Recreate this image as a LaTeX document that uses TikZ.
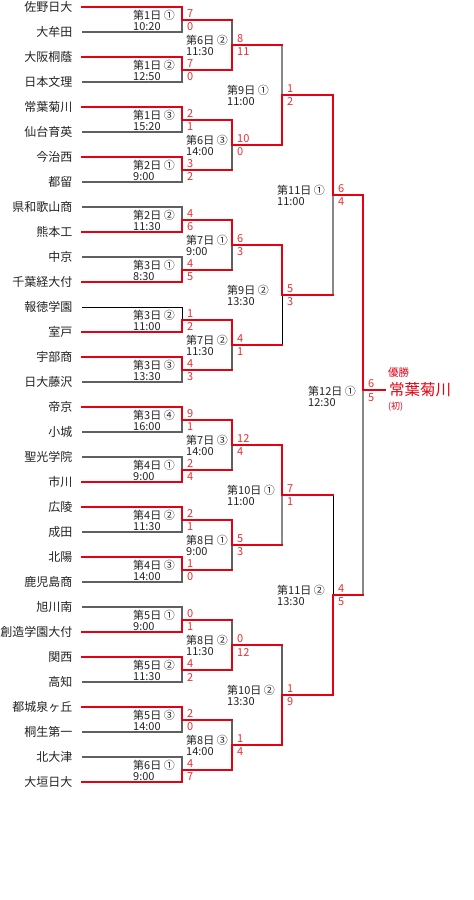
\documentclass[tikz,border=0pt]{standalone}
\usepackage{fontspec}
\setmainfont{Noto Sans CJK JP}
\usetikzlibrary{positioning}

\definecolor{winred}{RGB}{230,0,18}
\definecolor{scorered}{RGB}{232,48,48}
\definecolor{losegray}{RGB}{96,96,96}
\definecolor{paleloss}{RGB}{136,136,136}
\definecolor{inktext}{RGB}{34,34,34}

% one game: [label drop] name, x, y, label x, day, time, upper score, lower score
\newcommand{\game}[9][0.5]{%
  \coordinate (#2) at (#3,#4);
  \node[info] (#2l) at (#5,{#4+#1}) {#6\\#7};
  \node[score] (#2u) at ([xshift=5pt, yshift=6pt]#2) {#8};
  \node[score] (#2d) at ([xshift=5pt, yshift=-7.5pt]#2) {#9};
}

\begin{document}
\begin{tikzpicture}[x=1pt, y=-1pt,
    team/.style={anchor=east, inner xsep=9.5pt, inner ysep=0pt, text=inktext,
                 font=\fontsize{12}{13}\selectfont},
    info/.style={anchor=west, align=left, inner sep=0pt, text=inktext,
                 font=\fontsize{11}{11}\selectfont},
    score/.style={anchor=west, inner sep=0pt, text=scorered,
                  font=\fontsize{11}{12}\selectfont},
    win/.style={draw=winred, line width=2pt, line cap=rect},
    lose/.style={draw=losegray, line width=1.1pt},
    lose2/.style={draw=paleloss, line width=1.6pt},
    losek/.style={draw=black, line width=0.7pt}]
  \useasboundingbox (0,0) rectangle (474,900);

  % teams
  \node[team] (t1) at (82,7) {佐野日大};
  \node[team] (t2) at (82,32) {大牟田};
  \node[team] (t3) at (82,57) {大阪桐蔭};
  \node[team] (t4) at (82,82) {日本文理};
  \node[team] (t5) at (82,107) {常葉菊川};
  \node[team] (t6) at (82,132) {仙台育英};
  \node[team] (t7) at (82,157) {今治西};
  \node[team] (t8) at (82,182) {都留};
  \node[team] (t9) at (82,207) {県和歌山商};
  \node[team] (t10) at (82,232) {熊本工};
  \node[team] (t11) at (82,257) {中京};
  \node[team] (t12) at (82,282) {千葉経大付};
  \node[team] (t13) at (82,307) {報徳学園};
  \node[team] (t14) at (82,332) {室戸};
  \node[team] (t15) at (82,357) {宇部商};
  \node[team] (t16) at (82,382) {日大藤沢};
  \node[team] (t17) at (82,407) {帝京};
  \node[team] (t18) at (82,432) {小城};
  \node[team] (t19) at (82,457) {聖光学院};
  \node[team] (t20) at (82,482) {市川};
  \node[team] (t21) at (82,507) {広陵};
  \node[team] (t22) at (82,532) {成田};
  \node[team] (t23) at (82,557) {北陽};
  \node[team] (t24) at (82,582) {鹿児島商};
  \node[team] (t25) at (82,607) {旭川南};
  \node[team] (t26) at (82,632) {創造学園大付};
  \node[team] (t27) at (82,657) {関西};
  \node[team] (t28) at (82,682) {高知};
  \node[team] (t29) at (82,707) {都城泉ヶ丘};
  \node[team] (t30) at (82,732) {桐生第一};
  \node[team] (t31) at (82,757) {北大津};
  \node[team] (t32) at (82,782) {大垣日大};

  % first round
  \game{g1}{182}{19.5}{133}{第1日 ①}{10:20}{7}{0}
  \game{g2}{182}{69.5}{133}{第1日 ②}{12:50}{7}{0}
  \game{g3}{182}{119.5}{133}{第1日 ③}{15:20}{2}{1}
  \game{g4}{182}{169.5}{133}{第2日 ①}{9:00}{3}{2}
  \game{g5}{182}{219.5}{133}{第2日 ②}{11:30}{4}{6}
  \game{g6}{182}{269.5}{133}{第3日 ①}{8:30}{4}{5}
  \game{g7}{182}{319.5}{133}{第3日 ②}{11:00}{1}{2}
  \game{g8}{182}{369.5}{133}{第3日 ③}{13:30}{4}{3}
  \game{g9}{182}{419.5}{133}{第3日 ④}{16:00}{9}{1}
  \game{g10}{182}{469.5}{133}{第4日 ①}{9:00}{2}{4}
  \game{g11}{182}{519.5}{133}{第4日 ②}{11:30}{2}{1}
  \game{g12}{182}{569.5}{133}{第4日 ③}{14:00}{1}{0}
  \game{g13}{182}{619.5}{133}{第5日 ①}{9:00}{0}{1}
  \game{g14}{182}{669.5}{133}{第5日 ②}{11:30}{4}{2}
  \game{g15}{182}{719.5}{133}{第5日 ③}{14:00}{2}{0}
  \game{g16}{182}{769.5}{133}{第6日 ①}{9:00}{4}{7}

  % second round
  \game{h1}{232}{44.5}{186}{第6日 ②}{11:30}{8}{11}
  \game{h2}{232}{144.5}{186}{第6日 ③}{14:00}{10}{0}
  \game{h3}{232}{244.5}{186}{第7日 ①}{9:00}{6}{3}
  \game{h4}{232}{344.5}{186}{第7日 ②}{11:30}{4}{1}
  \game{h5}{232}{444.5}{186}{第7日 ③}{14:00}{12}{4}
  \game{h6}{232}{544.5}{186}{第8日 ①}{9:00}{5}{3}
  \game{h7}{232}{644.5}{186}{第8日 ②}{11:30}{0}{12}
  \game{h8}{232}{744.5}{186}{第8日 ③}{14:00}{1}{4}

  % third round, semis, final
  \game{q1}{282}{94.5}{227}{第9日 ①}{11:00}{1}{2}
  \game{q2}{282}{294.5}{227}{第9日 ②}{13:30}{5}{3}
  \game{q3}{282}{494.5}{227}{第10日 ①}{11:00}{7}{1}
  \game{q4}{282}{694.5}{227}{第10日 ②}{13:30}{1}{9}
  \game{s1}{333}{194.5}{277}{第11日 ①}{11:00}{6}{4}
  \game{s2}{333}{594.5}{277}{第11日 ②}{13:30}{4}{5}
  \game[6.5]{fin}{363}{390}{308}{第12日 ①}{12:30}{6}{5}

  % losing sides
  \foreach \a/\b in {t2/g1, t4/g2, t6/g3, t8/g4, t9/g5, t11/g6, t16/g8, t18/g9,
                     t19/g10, t22/g11, t24/g12, t25/g13, t28/g14, t30/g15, t31/g16}
    \draw[lose] (\a.east) -| (\b);
  \draw[losek] (t13.east) -| (g7);
  \foreach \a/\b in {g1/h1, g4/h2, g6/h3, g8/h4, g10/h5, g12/h6, g13/h7, g15/h8, h7/q4}
    \draw[lose] (\a -| \b) -- (\b);
  \foreach \a/\b in {h1/q1, h6/q3, q2/s1, s2/fin}
    \draw[lose2] (\a -| \b) -- (\b);
  \foreach \a/\b in {h4/q2, q3/s2}
    \draw[losek] (\a -| \b) -- (\b);

  % winning sides
  \foreach \a/\b in {t1/g1, t3/g2, t5/g3, t7/g4, t10/g5, t12/g6, t14/g7, t15/g8,
                     t17/g9, t20/g10, t21/g11, t23/g12, t26/g13, t27/g14, t29/g15, t32/g16}
    \draw[win] (\a.east) -| (\b);
  \foreach \a/\b in {g2/h1, g3/h2, g5/h3, g7/h4, g9/h5, g11/h6, g14/h7, g16/h8,
                     h2/q1, h3/q2, h5/q3, h8/q4, q1/s1, q4/s2, s1/fin}
    \draw[win] (\a) -| (\b);
  \foreach \a/\b in {g1/h1, g4/h2, g6/h3, g8/h4, g10/h5, g12/h6, g13/h7, g15/h8,
                     h1/q1, h4/q2, h6/q3, h7/q4, q2/s1, q3/s2, s2/fin}
    \draw[win] (\a) -- (\a -| \b);

  % champion
  \node[anchor=west, inner xsep=4pt, inner ysep=0pt, text=winred,
        font=\fontsize{15.5}{18}\selectfont] (champ) at (385,390) {常葉菊川};
  \draw[win] (fin) -- (champ);
  \node[above=5pt of champ.north west, anchor=south west, xshift=3pt, inner sep=0pt,
        text=winred, font=\fontsize{10.5}{12}\selectfont] (yusho) {優勝};
  \node[below=4pt of champ.south west, anchor=north west, xshift=3pt, inner sep=0pt,
        text=winred, font=\fontsize{9}{10}\selectfont] (first) {(初)};
\end{tikzpicture}
\end{document}
